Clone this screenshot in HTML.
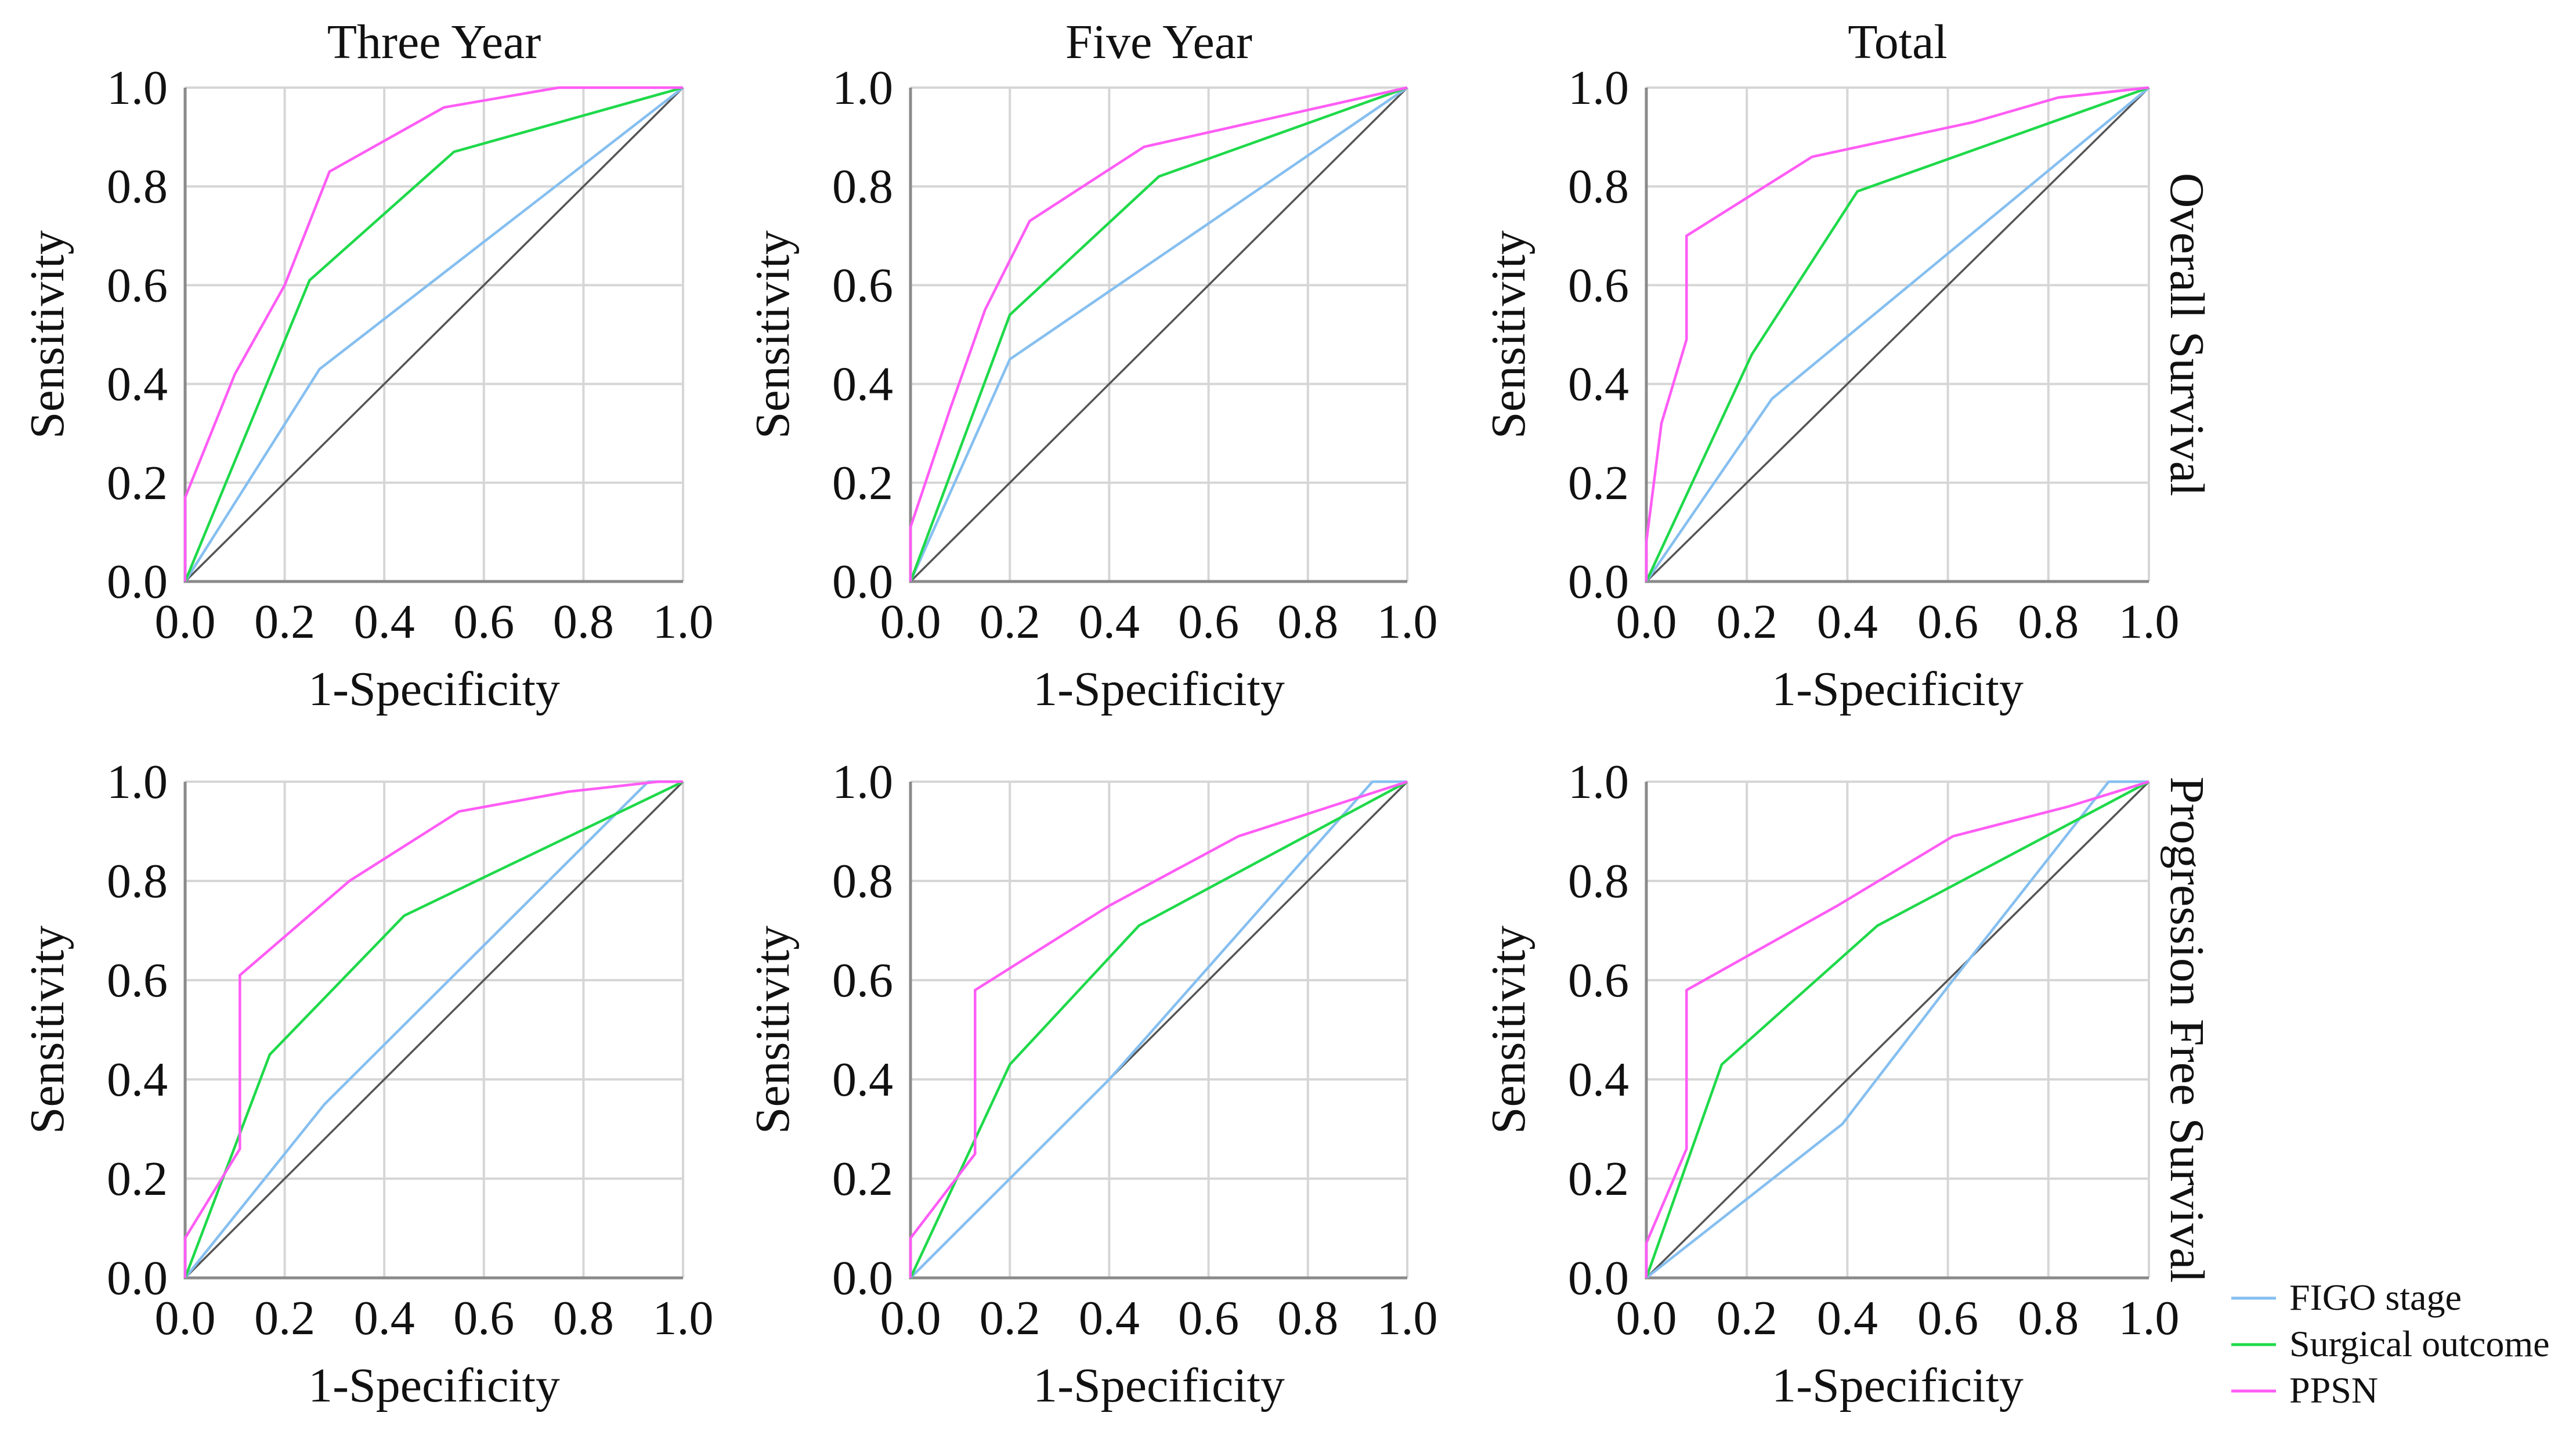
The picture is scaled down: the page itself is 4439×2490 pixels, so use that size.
<!DOCTYPE html>
<html><head><meta charset="utf-8">
<style>
html,body{margin:0;padding:0;background:#fff;}
svg{display:block;font-family:"Liberation Serif",serif;}
</style></head>
<body>
<svg id="fig" width="4439" height="2490" viewBox="0 0 4439 2490" xmlns="http://www.w3.org/2000/svg"></svg>
<script>
const colTitles = ["Three Year","Five Year","Total"];
const rowTitles = ["Overall Survival","Progression Free Survival"];
const seriesNames = ["FIGO stage","Surgical outcome","PPSN"];
const ticks = [0,0.2,0.4,0.6,0.8,1.0];
const tickLabels = ["0.0","0.2","0.4","0.6","0.8","1.0"];
const os3Figo = [[0,0],[0.27,0.43],[1,1]];
const os3Surg = [[0,0],[0.25,0.61],[0.54,0.87],[1,1]];
const os3Ppsn = [[0,0],[0,0.17],[0.1,0.42],[0.2,0.6],[0.29,0.83],[0.52,0.96],[0.75,1],[1,1]];
const os5Figo = [[0,0],[0.2,0.45],[1,1]];
const os5Surg = [[0,0],[0.2,0.54],[0.5,0.82],[1,1]];
const os5Ppsn = [[0,0],[0,0.11],[0.08,0.35],[0.15,0.55],[0.24,0.73],[0.47,0.88],[1,1]];
const osTFigo = [[0,0],[0.25,0.37],[1,1]];
const osTSurg = [[0,0],[0.21,0.46],[0.42,0.79],[1,1]];
const osTPpsn = [[0,0],[0,0.08],[0.03,0.32],[0.08,0.49],[0.08,0.7],[0.33,0.86],[0.65,0.93],[0.82,0.98],[1,1]];
const pfs3Figo = [[0,0],[0.28,0.35],[0.93,1],[1,1]];
const pfs3Surg = [[0,0],[0.17,0.45],[0.44,0.73],[1,1]];
const pfs3Ppsn = [[0,0],[0,0.08],[0.11,0.26],[0.11,0.61],[0.33,0.8],[0.55,0.94],[0.77,0.98],[0.95,1],[1,1]];
const pfs5Figo = [[0,0],[0.4,0.4],[0.93,1],[1,1]];
const pfs5Surg = [[0,0],[0.2,0.43],[0.46,0.71],[1,1]];
const pfs5Ppsn = [[0,0],[0,0.08],[0.13,0.25],[0.13,0.58],[0.4,0.75],[0.66,0.89],[1,1]];
const pfsTFigo = [[0,0],[0.39,0.31],[0.61,0.6],[0.92,1],[1,1]];
const pfsTSurg = [[0,0],[0.15,0.43],[0.46,0.71],[1,1]];
const pfsTPpsn = [[0,0],[0,0.07],[0.08,0.26],[0.08,0.58],[0.38,0.75],[0.61,0.89],[0.84,0.95],[1,1]];

const panels = [
  [os3Figo,os3Surg,os3Ppsn],[os5Figo,os5Surg,os5Ppsn],[osTFigo,osTSurg,osTPpsn],
  [pfs3Figo,pfs3Surg,pfs3Ppsn],[pfs5Figo,pfs5Surg,pfs5Ppsn],[pfsTFigo,pfsTSurg,pfsTPpsn]
];
const colors = ["#86bff0","#1fd94a","#ff5cf5"];
const colX = [[319,1177],[1569,2425],[2837,3703]];
const rowY = [[151,1002],[1347,2202]];
const NS = "http://www.w3.org/2000/svg";
const svg = document.getElementById("fig");
function el(tag, attrs, parent){
  const e = document.createElementNS(NS, tag);
  for (const k in attrs) e.setAttribute(k, attrs[k]);
  (parent||svg).appendChild(e);
  return e;
}
for (let r=0;r<2;r++){
  for (let c=0;c<3;c++){
    const [x0,x1] = colX[c], [y0,y1] = rowY[r];
    const sx = v => x0 + v*(x1-x0);
    const sy = v => y1 - v*(y1-y0);
    const g = el("g",{});
    
    
    ticks.forEach((t,i)=>{
      if (t>0){
        const gv = el("line",{x1:sx(t),x2:sx(t),y1:y0,y2:y1,stroke:"#d6d6d6","stroke-width":4},g);
        
        
        const gh = el("line",{x1:x0,x2:x1,y1:sy(t),y2:sy(t),stroke:"#d6d6d6","stroke-width":4},g);
        
        
      }
      const tx = el("text",{x:sx(t),y:y1+97,"font-size":84,"text-anchor":"middle",fill:"#111"},g);
      tx.textContent = tickLabels[i];
      
      
      const ty = el("text",{x:x0-30,y:sy(t)+28,"font-size":84,"text-anchor":"end",fill:"#111"},g);
      ty.textContent = tickLabels[i];
      
      
    });
    const ax = el("path",{d:`M${x0},${y0} V${y1} H${x1}`,fill:"none",stroke:"#8a8a8a","stroke-width":5},g);
    
    
    const dg = el("line",{x1:sx(0),y1:sy(0),x2:sx(1),y2:sy(1),stroke:"#555","stroke-width":3.5},g);
    
    
    panels[r*3+c].forEach((pts,s)=>{
      const p = el("polyline",{points:pts.map(p=>sx(p[0])+","+sy(p[1])).join(" "),fill:"none",stroke:colors[s],"stroke-width":4.5,"stroke-linejoin":"round"},g);
      
      
    });
    const xl = el("text",{x:(x0+x1)/2,y:y1+213,"font-size":84,"text-anchor":"middle",fill:"#111"},g);
    xl.textContent = "1-Specificity";
    
    
    const yx = x0-210, yy = (y0+y1)/2;
    const yl = el("text",{x:yx,y:yy,"font-size":84,"text-anchor":"middle",fill:"#111",transform:`rotate(-90 ${yx} ${yy})`},g);
    yl.textContent = "Sensitivity";
    
    
    if (r===0){
      const t = el("text",{x:(x0+x1)/2,y:100,"font-size":84,"text-anchor":"middle",fill:"#111"},g);
      t.textContent = colTitles[c];
      
      
    }
    if (c===2){
      const rx = x1+38, ry = (y0+y1)/2;
      const t = el("text",{x:rx,y:ry,"font-size":84,"text-anchor":"middle",fill:"#111",transform:`rotate(90 ${rx} ${ry})`},g);
      t.textContent = rowTitles[r];
      
      
    }
  }
}
const lg = el("g",{});


seriesNames.forEach((n,i)=>{
  const y = 2237 + i*80;
  const ln = el("line",{x1:3845,x2:3922,y1:y,y2:y,stroke:colors[i],"stroke-width":5},lg);
  
  
  const t = el("text",{x:3945,y:y+20,"font-size":64,fill:"#111"},lg);
  t.textContent = n;
  
  
});
</script>
</body></html>
